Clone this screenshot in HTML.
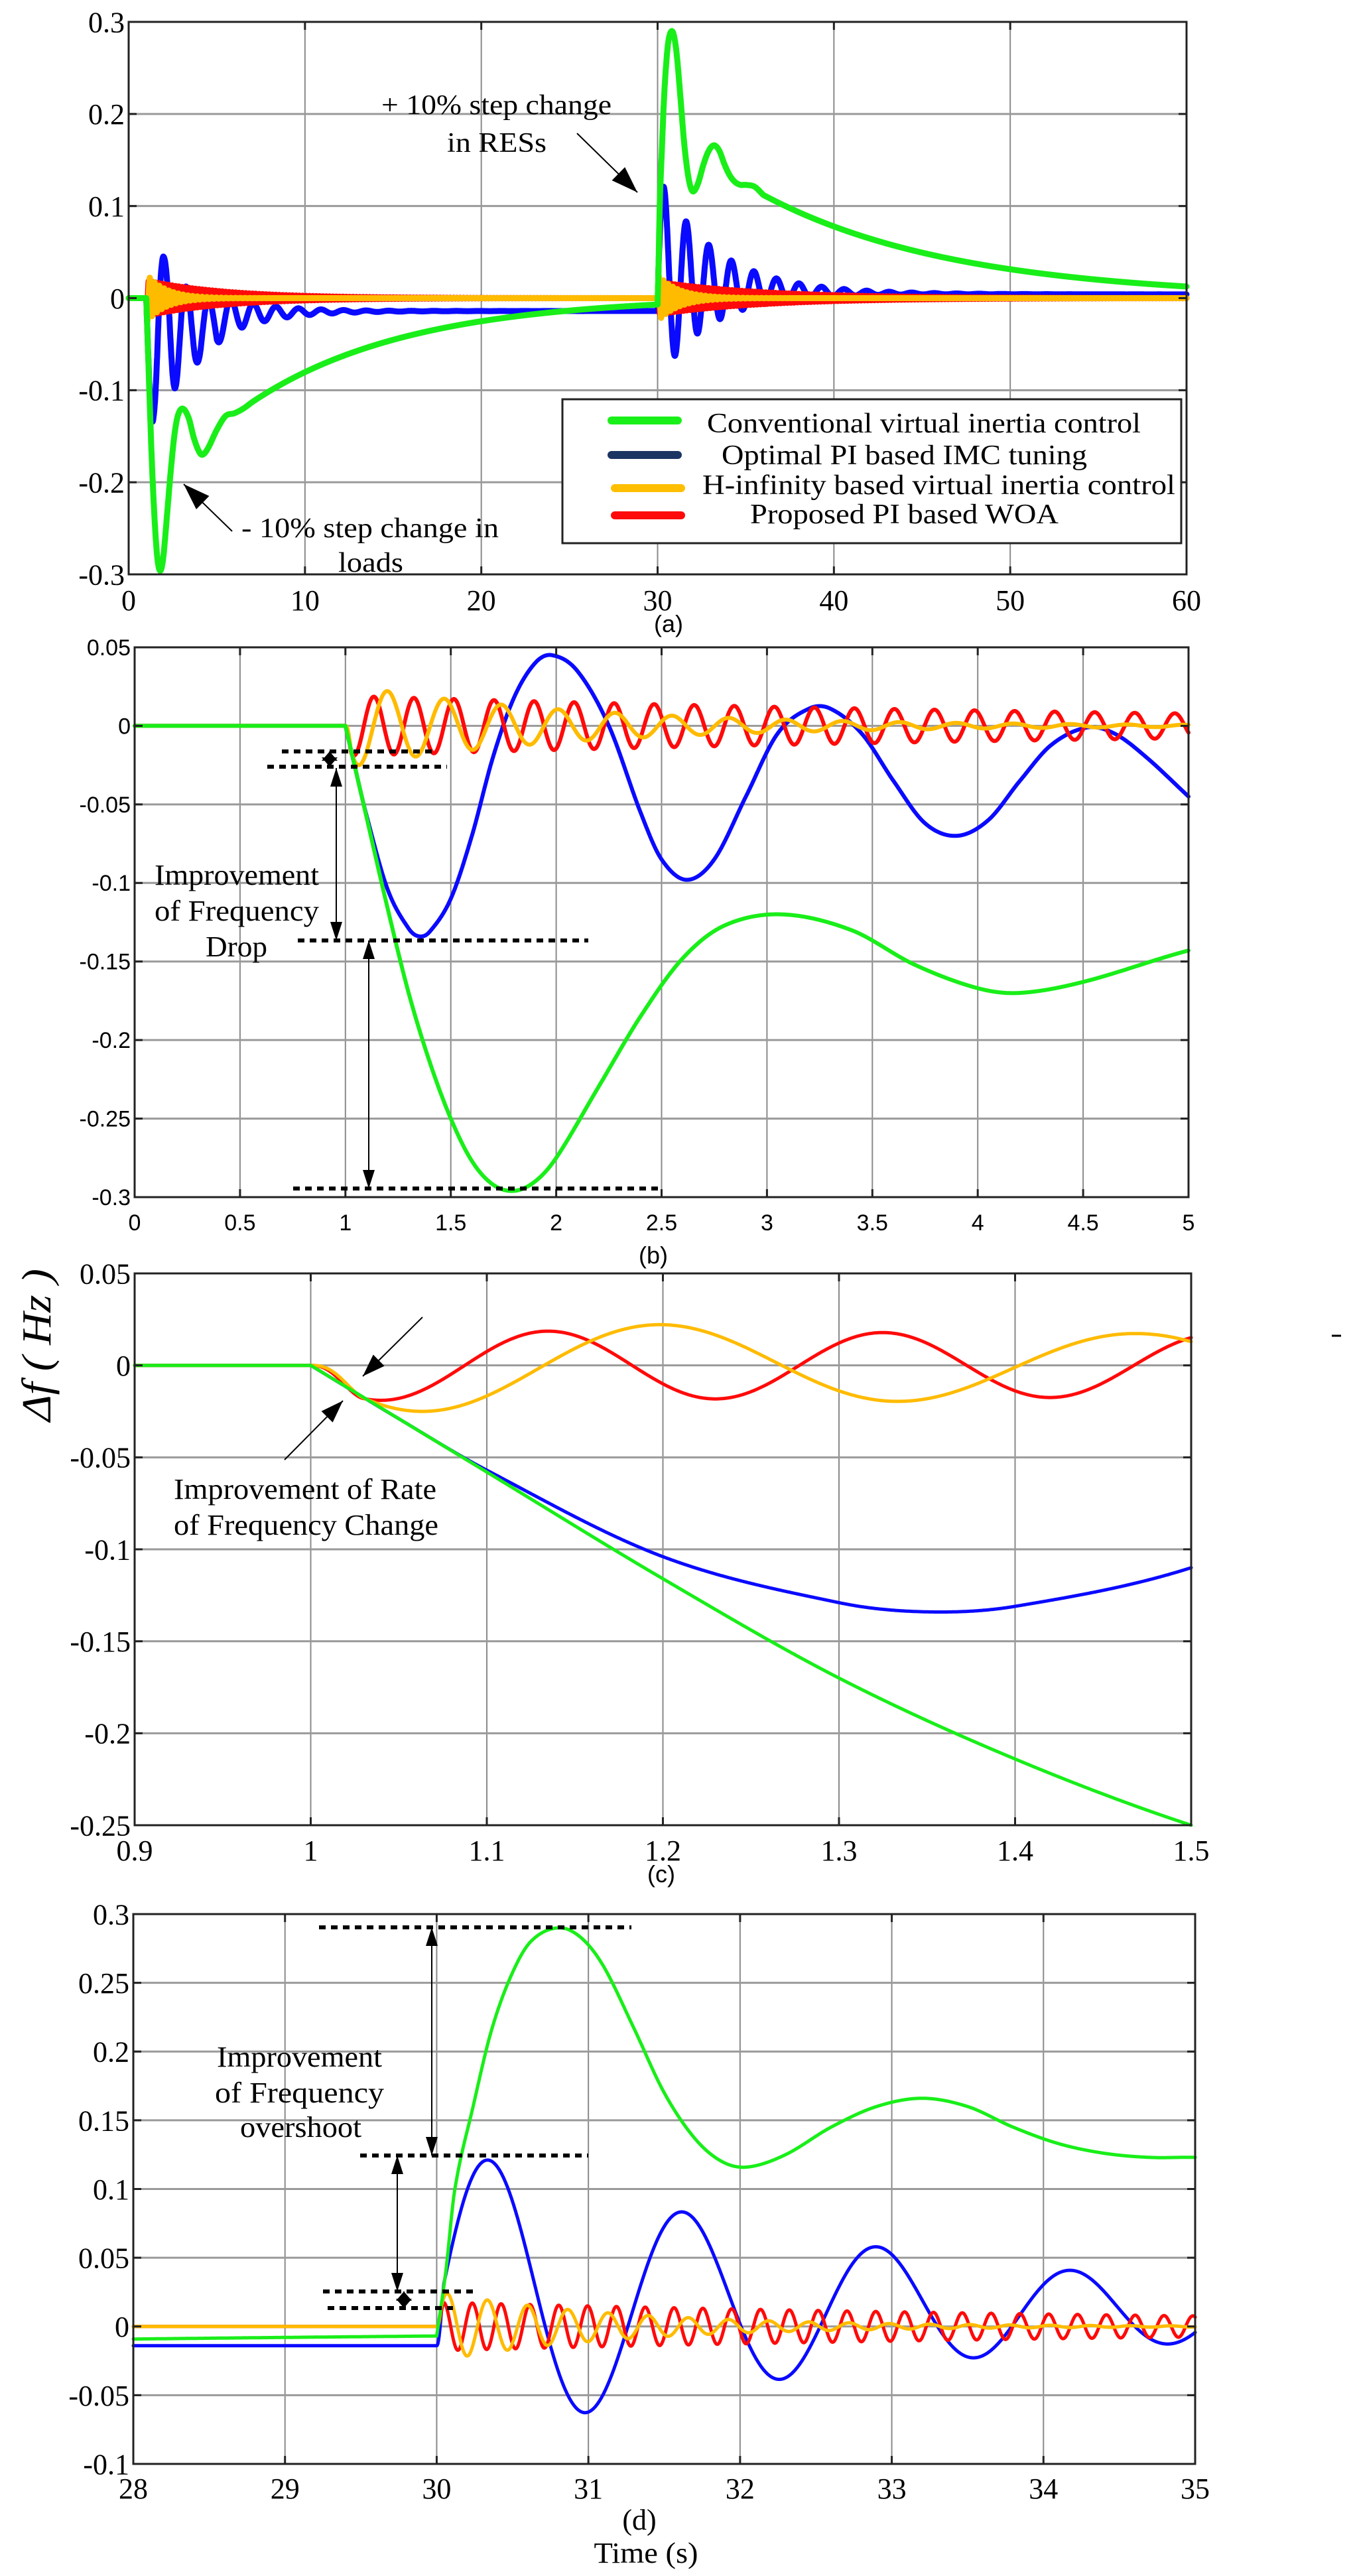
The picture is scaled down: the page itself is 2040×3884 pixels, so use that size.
<!DOCTYPE html>
<html><head><meta charset="utf-8">
<style>
html,body{margin:0;padding:0;background:#fff;}
svg{display:block;}
.ts{font-family:"Liberation Serif",serif;fill:#000;}
.ss{font-family:"Liberation Sans",sans-serif;fill:#000;}
</style></head>
<body>
<svg id="s" xmlns="http://www.w3.org/2000/svg" width="2040" height="3884" viewBox="0 0 2040 3884">
<rect width="2040" height="3884" fill="#fff"/>
<g id="grids"></g>
<g id="curves"></g>
<g id="axes"></g>
<g id="ann">
  <text class="ts" x="575" y="172" font-size="42" textLength="347" lengthAdjust="spacingAndGlyphs">+ 10% step change</text>
  <text class="ts" x="674" y="229" font-size="42" textLength="150" lengthAdjust="spacingAndGlyphs">in RESs</text>
  <text class="ts" x="364" y="810" font-size="42" textLength="388" lengthAdjust="spacingAndGlyphs">- 10% step change in</text>
  <text class="ts" x="510" y="862" font-size="42" textLength="98" lengthAdjust="spacingAndGlyphs">loads</text>
  <rect x="848" y="602" width="933" height="217" fill="#fff" stroke="#222" stroke-width="3"/>
  <line x1="922" y1="634" x2="1022" y2="634" stroke="#19f019" stroke-width="12" stroke-linecap="round"/>
  <line x1="922" y1="686" x2="1022" y2="686" stroke="#1b3563" stroke-width="12" stroke-linecap="round"/>
  <line x1="927" y1="736" x2="1027" y2="736" stroke="#ffbf00" stroke-width="12" stroke-linecap="round"/>
  <line x1="927" y1="777" x2="1027" y2="777" stroke="#ff0a0a" stroke-width="12" stroke-linecap="round"/>
  <text class="ts" x="1066" y="652" font-size="42" textLength="654" lengthAdjust="spacingAndGlyphs">Conventional virtual inertia control</text>
  <text class="ts" x="1088" y="700" font-size="42" textLength="551" lengthAdjust="spacingAndGlyphs">Optimal PI based IMC tuning</text>
  <text class="ts" x="1059" y="745" font-size="42" textLength="713" lengthAdjust="spacingAndGlyphs">H-infinity based virtual inertia control</text>
  <text class="ts" x="1131" y="789" font-size="42" textLength="465" lengthAdjust="spacingAndGlyphs">Proposed PI based WOA</text>
  <text class="ts" x="233" y="1334" font-size="44" textLength="248" lengthAdjust="spacingAndGlyphs">Improvement</text>
  <text class="ts" x="233" y="1388" font-size="44" textLength="248" lengthAdjust="spacingAndGlyphs">of Frequency</text>
  <text class="ts" x="310" y="1442" font-size="44" textLength="93" lengthAdjust="spacingAndGlyphs">Drop</text>
  <text class="ts" x="262" y="2260" font-size="44" textLength="396" lengthAdjust="spacingAndGlyphs">Improvement of Rate</text>
  <text class="ts" x="262" y="2314" font-size="44" textLength="399" lengthAdjust="spacingAndGlyphs">of Frequency Change</text>
  <text class="ts" x="327" y="3116" font-size="44" textLength="249" lengthAdjust="spacingAndGlyphs">Improvement</text>
  <text class="ts" x="324" y="3170" font-size="44" textLength="255" lengthAdjust="spacingAndGlyphs">of  Frequency</text>
  <text class="ts" x="362" y="3222" font-size="44" textLength="183" lengthAdjust="spacingAndGlyphs">overshoot</text>
  <text class="ss" x="1008" y="953" font-size="36" text-anchor="middle">(a)</text>
  <text class="ss" x="985" y="1905" font-size="36" text-anchor="middle">(b)</text>
  <text class="ss" x="997" y="2838" font-size="36" text-anchor="middle">(c)</text>
  <text class="ts" x="964" y="3814" font-size="44" text-anchor="middle">(d)</text>
  <text class="ts" x="974" y="3864" font-size="44" text-anchor="middle" textLength="157" lengthAdjust="spacingAndGlyphs">Time (s)</text>
  <text class="ts" transform="translate(76,2028) rotate(-90)" font-size="62" font-style="italic" text-anchor="middle" textLength="230" lengthAdjust="spacingAndGlyphs">Δf ( Hz )</text>
  <line x1="2008" y1="2014" x2="2022" y2="2014" stroke="#000" stroke-width="3"/>
</g>
<g id="arr"></g>
</svg>
<script>
(function(){
var NS="http://www.w3.org/2000/svg";
function el(tag,attrs,parent){var e=document.createElementNS(NS,tag);for(var k in attrs)e.setAttribute(k,attrs[k]);parent.appendChild(e);return e;}
var grids=document.getElementById('grids'),curves=document.getElementById('curves'),axes=document.getElementById('axes'),arr=document.getElementById('arr');
function cr(pts,t){var n=pts.length;if(t<=pts[0][0])return pts[0][1];if(t>=pts[n-1][0])return pts[n-1][1];
 var i=0;while(i<n-2&&pts[i+1][0]<t)i++;
 var p0=pts[Math.max(i-1,0)],p1=pts[i],p2=pts[i+1],p3=pts[Math.min(i+2,n-1)];
 var h=p2[0]-p1[0],s=(t-p1[0])/h;
 var m1=(p2[1]-p0[1])/(p2[0]-p0[0]),m2=(p3[1]-p1[1])/(p3[0]-p1[0]);
 var s2=s*s,s3=s2*s;
 return (2*s3-3*s2+1)*p1[1]+(s3-2*s2+s)*h*m1+(-2*s3+3*s2)*p2[1]+(s3-s2)*h*m2;}
var G1=[[1,0],[1.1,-0.058],[1.2,-0.116],[1.3,-0.17],[1.4,-0.214],[1.5,-0.25],[1.6,-0.277],[1.7,-0.292],[1.8,-0.296],[1.9,-0.29],[2.0,-0.275],[2.2,-0.23],[2.4,-0.185],[2.6,-0.148],[2.8,-0.127],[3.07,-0.12],[3.4,-0.13],[3.7,-0.152],[4.0,-0.167],[4.2,-0.17],[4.5,-0.163],[5,-0.143],[5.5,-0.128],[6,-0.125],[6.5,-0.12],[7,-0.113]];
function gmid(t){return -0.115*Math.exp(-(t-7)/9)+0.002;}
var g30=gmid(30);
var G2=[[30,g30],[30.06,0.04],[30.12,0.1],[30.24,0.16],[30.36,0.215],[30.49,0.255],[30.62,0.28],[30.8,0.29],[30.95,0.283],[31.1,0.262],[31.3,0.217],[31.5,0.17],[31.7,0.137],[31.88,0.12],[32.05,0.116],[32.3,0.125],[32.6,0.145],[32.9,0.16],[33.2,0.166],[33.5,0.16],[33.8,0.145],[34.1,0.133],[34.4,0.126],[34.7,0.123],[35,0.123],[35.5,0.121],[36,0.112]];
function green(t){if(t<1)return 0;if(t<=7)return cr(G1,t);if(t<30)return gmid(t);if(t<=36)return cr(G2,t);return 0.112*Math.exp(-(t-36)/11);}
var B1=[[1,0],[1.05,-0.029],[1.1,-0.057],[1.2,-0.104],[1.3,-0.129],[1.35,-0.134],[1.4,-0.131],[1.5,-0.11],[1.6,-0.07],[1.7,-0.02],[1.8,0.018],[1.9,0.04],[1.98,0.045],[2.1,0.035],[2.25,0.0],[2.4,-0.055],[2.5,-0.085],[2.62,-0.098],[2.75,-0.085],[2.9,-0.045],[3.05,-0.005],[3.2,0.011],[3.3,0.011],[3.45,-0.005],[3.6,-0.035],[3.75,-0.062],[3.9,-0.07],[4.05,-0.06],[4.2,-0.035],[4.35,-0.012],[4.52,-0.001],[4.65,-0.005],[4.8,-0.02],[5,-0.045]];
function bf(t){return -0.014-0.022*Math.exp(-(t-1)/3)+0.03*Math.exp(-(t-4.52)/2.6)*Math.cos(2*Math.PI*(t-4.52)/1.28);}
var bcorr=-0.045-bf(5);
function bpre(t){if(t<1)return 0;if(t<=5)return cr(B1,t);return bf(t)+bcorr*Math.exp(-(t-5)/0.3);}
function bpost(t){return 0.004+0.018*Math.exp(-(t-30)/5)+0.1*Math.exp(-(t-30.35)/3.1)*Math.cos(2*Math.PI*(t-30.35)/1.28);}
function ramp(x){if(x<=0)return 0;if(x>=1)return 1;return x*x*(3-2*x);}
function blue(t){var p=bpre(Math.min(t,30));if(t<30)return bpre(t);var w=ramp((t-30)/0.05);return p+(bpost(t)-p)*w;}
function red(t){var y=0;if(t>1)y+=ramp((t-1)/0.03)*(-0.019)*Math.exp(-(t-1.04)/4.5)*Math.cos(2*Math.PI*(t-1.04)/0.19);
 if(t>30)y+=ramp((t-30)/0.05)*0.017*Math.exp(-(t-30.235)/6)*Math.cos(2*Math.PI*(t-30.235)/0.19);return y;}
function yel(t){var y=0;if(t>1)y+=ramp((t-1)/0.03)*(-0.025)*Math.exp(-(t-1.065)/1.1)*Math.cos(2*Math.PI*(t-1.065)/0.27);
 if(t>30)y+=ramp((t-30)/0.03)*0.024*Math.exp(-(t-30.07)/1.2)*Math.cos(2*Math.PI*(t-30.07)/0.265);return y;}
var COL={g:'#19ee19',b:'#0a0aff',r:'#ff0a0a',y:'#ffbb00'};
var panels=[
 {x0:194,x1:1789,y0:33,y1:866,tmin:0,tmax:60,vmax:0.3,vmin:-0.3,xt:[0,10,20,30,40,50,60],xl:['0','10','20','30','40','50','60'],yt:[0.3,0.2,0.1,0,-0.1,-0.2,-0.3],yl:['0.3','0.2','0.1','0','-0.1','-0.2','-0.3'],font:'ts',fs:44,xly:920,sw:9,dt:0.004},
 {x0:203,x1:1792,y0:976,y1:1805,tmin:0,tmax:5,vmax:0.05,vmin:-0.3,xt:[0,0.5,1,1.5,2,2.5,3,3.5,4,4.5,5],xl:['0','0.5','1','1.5','2','2.5','3','3.5','4','4.5','5'],yt:[0.05,0,-0.05,-0.1,-0.15,-0.2,-0.25,-0.3],yl:['0.05','0','-0.05','-0.1','-0.15','-0.2','-0.25','-0.3'],font:'ss',fs:34,xly:1855,sw:6,dt:0.002},
 {x0:203,x1:1796,y0:1920,y1:2752,tmin:0.9,tmax:1.5,vmax:0.05,vmin:-0.25,xt:[0.9,1,1.1,1.2,1.3,1.4,1.5],xl:['0.9','1','1.1','1.2','1.3','1.4','1.5'],yt:[0.05,0,-0.05,-0.1,-0.15,-0.2,-0.25],yl:['0.05','0','-0.05','-0.1','-0.15','-0.2','-0.25'],font:'ts',fs:44,xly:2805,sw:5,dt:0.0004},
 {x0:201,x1:1802,y0:2886,y1:3715,tmin:28,tmax:35,vmax:0.3,vmin:-0.1,xt:[28,29,30,31,32,33,34,35],xl:['28','29','30','31','32','33','34','35'],yt:[0.3,0.25,0.2,0.15,0.1,0.05,0,-0.05,-0.1],yl:['0.3','0.25','0.2','0.15','0.1','0.05','0','-0.05','-0.1'],font:'ts',fs:44,xly:3767,sw:5,dt:0.002}
];
var defs=el('defs',{},document.getElementById('s'));
panels.forEach(function(P,pi){
 function X(t){return P.x0+(t-P.tmin)/(P.tmax-P.tmin)*(P.x1-P.x0);}
 function Y(v){return P.y0+(P.vmax-v)/(P.vmax-P.vmin)*(P.y1-P.y0);}
 P.xt.forEach(function(t,i){var x=X(t);
  if(i>0&&i<P.xt.length-1)el('line',{x1:x,y1:P.y0,x2:x,y2:P.y1,stroke:'#8a8a8a','stroke-width':2},grids);
  el('line',{x1:x,y1:P.y1,x2:x,y2:P.y1-12,stroke:'#222','stroke-width':3},axes);
  el('line',{x1:x,y1:P.y0,x2:x,y2:P.y0+12,stroke:'#222','stroke-width':3},axes);
  var tx=el('text',{x:x,y:P.xly,'font-size':P.fs,'text-anchor':'middle','class':P.font},axes);tx.textContent=P.xl[i];});
 P.yt.forEach(function(v,i){var y=Y(v);
  if(i>0&&i<P.yt.length-1)el('line',{x1:P.x0,y1:y,x2:P.x1,y2:y,stroke:'#9a9a9a','stroke-width':3},grids);
  el('line',{x1:P.x0,y1:y,x2:P.x0+12,y2:y,stroke:'#222','stroke-width':3},axes);
  el('line',{x1:P.x1,y1:y,x2:P.x1-12,y2:y,stroke:'#222','stroke-width':3},axes);
  var tx=el('text',{x:P.x0-6,y:y+P.fs*0.35,'font-size':P.fs,'text-anchor':'end','class':P.font},axes);tx.textContent=P.yl[i];});
 el('rect',{x:P.x0,y:P.y0,width:P.x1-P.x0,height:P.y1-P.y0,fill:'none',stroke:'#222','stroke-width':3},axes);
 var cp=el('clipPath',{id:'cp'+pi},defs);el('rect',{x:P.x0-6,y:P.y0-2,width:P.x1-P.x0+12,height:P.y1-P.y0+6},cp);
 var g=el('g',{'clip-path':'url(#cp'+pi+')'},curves);
 [['b',blue],['r',red],['y',yel],['g',green]].forEach(function(s){
  var d=[];for(var t=P.tmin;t<=P.tmax+1e-9;t+=P.dt){d.push(X(t).toFixed(1)+','+Y(s[1](t)).toFixed(1));}
  el('polyline',{points:d.join(' '),fill:'none',stroke:COL[s[0]],'stroke-width':P.sw,'stroke-linejoin':'round','stroke-linecap':'round'},g);
 });
});
function dotted(x1,x2,y){el('line',{x1:x1,y1:y,x2:x2,y2:y,stroke:'#000','stroke-width':6,'stroke-dasharray':'10 8'},arr);}
function head(x1,y1,x2,y2,L,W){var dx=x2-x1,dy=y2-y1,l=Math.sqrt(dx*dx+dy*dy);dx/=l;dy/=l;
 var bx=x2-dx*L,by=y2-dy*L;el('polygon',{points:x2+','+y2+' '+(bx-dy*W)+','+(by+dx*W)+' '+(bx+dy*W)+','+(by-dx*W),fill:'#000'},arr);}
function arrow(x1,y1,x2,y2,L,W,both,sw){el('line',{x1:x1,y1:y1,x2:x2,y2:y2,stroke:'#000','stroke-width':sw||2},arr);head(x1,y1,x2,y2,L,W);if(both)head(x2,y2,x1,y1,L,W);}
arrow(870,201,961,290,40,14,false,2);
arrow(350,801,277,730,40,14,false,2);
dotted(425,654,1133);dotted(403,674,1156);dotted(449,887,1418);dotted(442,994,1792);
arrow(507,1158,507,1418,28,9,true,2);
arrow(497,1133,497,1156,14,12,true,2);
arrow(556,1418,556,1792,28,9,true,2);
arrow(637,1986,547,2075,34,12,false,2);
arrow(429,2201,517,2112,34,12,false,2);
dotted(481,952,2906);dotted(543,887,3250);dotted(487,717,3455);dotted(494,683,3480);
arrow(651,2906,651,3250,28,9,true,2);
arrow(599,3250,599,3455,28,9,true,2);
arrow(609,3455,609,3480,14,12,true,2);
})();
</script>
</body></html>
